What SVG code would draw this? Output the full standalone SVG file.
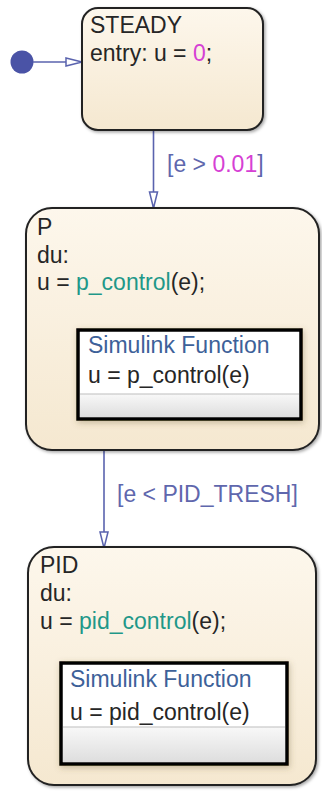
<svg xmlns="http://www.w3.org/2000/svg" width="322" height="791" viewBox="0 0 322 791">
<style>
.st{fill:url(#cream);stroke:#222;stroke-width:2;filter:url(#sh)}
.fn{fill:#fff;stroke:#000;stroke-width:3.5;filter:url(#sh2)}
.t{font-family:"Liberation Sans",Arial,sans-serif;font-size:23px;fill:#262626}
.blue{fill:#3d6199}
.lab{font-family:"Liberation Sans",Arial,sans-serif;font-size:23px;fill:#5f67ad}
.mag{fill:#d640d4}
.teal{fill:#1f9889}
.tr{stroke:#5a63ae;stroke-width:1.6;fill:none}
.sep{stroke:#bdbdbd;stroke-width:1}
</style>
<defs>
<linearGradient id="cream" x1="0" y1="0" x2="0" y2="1">
<stop offset="0" stop-color="#fdf7ec"/>
<stop offset="1" stop-color="#f5e8d0"/>
</linearGradient>
<linearGradient id="grey" x1="0" y1="0" x2="0" y2="1">
<stop offset="0" stop-color="#f8f8f8"/>
<stop offset="1" stop-color="#dedede"/>
</linearGradient>
<filter id="sh" x="-10%" y="-10%" width="120%" height="120%">
<feDropShadow dx="1.5" dy="1.5" stdDeviation="1.5" flood-color="#000" flood-opacity="0.35"/>
</filter>
<filter id="sh2" x="-10%" y="-10%" width="120%" height="130%">
<feDropShadow dx="1" dy="2" stdDeviation="3" flood-color="#6b5a30" flood-opacity="0.35"/>
</filter>
<marker id="ah" markerWidth="18" markerHeight="12" refX="17" refY="5.5" orient="auto" markerUnits="userSpaceOnUse">
<path d="M1,1.5 L17,5.5 L1,9.5 Z" fill="#fff" stroke="#5a63ae" stroke-width="1.5"/>
</marker>
</defs>

<g id="connectors">
<circle cx="22" cy="62" r="11.5" fill="#4a53a6"/>
<line class="tr" x1="33" y1="62" x2="82" y2="62" marker-end="url(#ah)"/>
<line class="tr" x1="153.5" y1="131" x2="153.5" y2="208" marker-end="url(#ah)"/>
<line class="tr" x1="104" y1="451" x2="104" y2="548" marker-end="url(#ah)"/>
<text class="lab" x="167" y="172">[e &gt; <tspan class="mag">0.01</tspan>]</text>
<text class="lab" x="117" y="502">[e &lt; PID_TRESH]</text>
</g>

<g id="steady">
<rect class="st" x="82" y="8" width="181" height="122" rx="16"/>
<text class="t" x="90" y="33">STEADY</text>
<text class="t" x="90" y="61">entry: u = <tspan class="mag">0</tspan>;</text>
</g>

<g id="p">
<rect class="st" x="26" y="208" width="293" height="242" rx="26"/>
<text class="t" x="37" y="235">P</text>
<text class="t" x="37" y="263">du:</text>
<text class="t" x="37" y="290">u = <tspan class="teal">p_control</tspan>(e);</text>
<g id="p_fn">
<rect class="fn" x="78" y="330" width="223" height="89"/>
<rect x="80" y="394" width="219" height="23" fill="url(#grey)"/>
<line class="sep" x1="80" y1="394" x2="299" y2="394"/>
<text class="t blue" x="88" y="353">Simulink Function</text>
<text class="t" x="88" y="383">u = p_control(e)</text>
</g>
</g>

<g id="pid">
<rect class="st" x="28" y="547" width="288" height="238" rx="26"/>
<text class="t" x="40" y="573">PID</text>
<text class="t" x="40" y="601">du:</text>
<text class="t" x="40" y="629">u = <tspan class="teal">pid_control</tspan>(e);</text>
<g id="pid_fn">
<rect class="fn" x="61" y="663" width="226" height="101"/>
<rect x="63" y="727" width="222" height="35" fill="url(#grey)"/>
<line class="sep" x1="63" y1="727" x2="285" y2="727"/>
<text class="t blue" x="70" y="687">Simulink Function</text>
<text class="t" x="70" y="720">u = pid_control(e)</text>
</g>
</g>
</svg>
